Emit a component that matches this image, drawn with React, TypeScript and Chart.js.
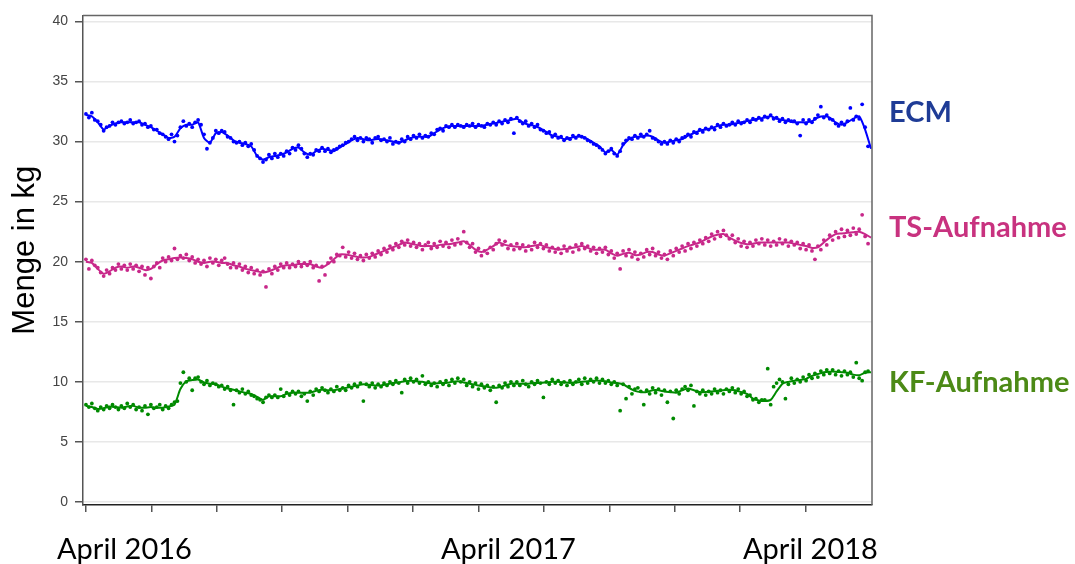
import React, { useEffect, useRef } from "react";
import { Chart, registerables } from "chart.js";

Chart.register(...registerables);

// ---- data ------------------------------------------------------------
// x unit: day index from the first day (April 2016)
const POINT_STEP = 3; // days between plotted daily readings
const LINE_STEP = 6; // days between points of the smoothed curve

const ecmPoints = [
  32.3, 32.0, 32.4, 31.8, 31.7, 31.4, 30.9, 31.2, 31.3, 31.6,
  31.4, 31.6, 31.7, 31.5, 31.6, 31.8, 31.5, 31.6, 31.7, 31.4,
  31.5, 31.2, 31.3, 31.0, 31.0, 30.7, 30.6, 30.4, 30.2, 30.6,
  30.0, 30.5, 31.2, 31.7, 31.3, 31.5, 31.2, 31.6, 31.8, 31.4,
  30.6, 29.4, 29.9, 30.3, 30.9, 30.7, 30.9, 30.8, 30.4, 30.3,
  30.0, 29.9, 30.0, 29.7, 29.9, 29.6, 29.8, 29.3, 28.8, 28.6,
  28.3, 28.5, 28.9, 28.6, 29.0, 28.7, 29.0, 28.8, 29.2, 29.0,
  29.5, 29.3, 29.7, 29.4, 29.0, 28.7, 29.0, 28.9, 29.3, 29.2,
  29.5, 29.2, 29.4, 29.1, 29.3, 29.4, 29.6, 29.7, 29.9, 30.0,
  30.2, 30.4, 30.1, 30.3, 30.0, 30.3, 30.2, 29.9, 30.3, 30.4,
  30.1, 30.2, 30.0, 30.3, 29.8, 30.0, 29.9, 30.2, 30.0, 30.4,
  30.2, 30.5, 30.3, 30.6, 30.3, 30.5, 30.4, 30.7, 30.6, 31.0,
  31.1, 30.9, 31.3, 31.2, 31.4, 31.2, 31.4, 31.3, 31.2, 31.4,
  31.3, 31.5, 31.2, 31.4, 31.3, 31.2, 31.5, 31.4, 31.6, 31.4,
  31.7, 31.5, 31.8, 31.6, 31.9, 30.7, 32.0, 31.7, 31.5, 31.7,
  31.3, 31.5, 31.2, 31.4, 31.0, 30.9, 30.7, 30.8, 30.4, 30.6,
  30.3, 30.4, 30.1, 30.3, 30.2, 30.5, 30.3, 30.5, 30.4, 30.3,
  30.1, 30.0, 29.8, 29.7, 29.5, 29.3, 29.0, 29.2, 29.4, 29.0,
  28.8, 29.2, 29.8, 30.1, 30.3, 30.2, 30.5, 30.3, 30.6, 30.4,
  30.6, 30.9, 30.3, 30.2, 30.0, 29.8, 30.0, 29.8, 30.1, 29.9,
  30.2, 30.0, 30.3, 30.4, 30.6, 30.4, 30.8, 30.7, 31.0, 30.8,
  31.1, 31.0, 31.2, 31.0, 31.4, 31.2, 31.5, 31.3, 31.4, 31.6,
  31.4, 31.7, 31.5, 31.6, 31.8, 31.6, 31.9, 31.8, 32.0, 31.8,
  32.1, 32.0, 32.2, 31.9, 32.0, 31.7, 31.9, 31.6, 31.8, 31.7,
  31.7, 31.5, 30.5, 31.8, 31.5, 31.8, 31.6, 31.9, 32.2, 32.9,
  32.0, 32.2, 31.9, 31.8, 31.5, 31.3, 31.6, 31.4, 31.7, 32.8,
  31.8, 32.1, 31.9, 33.1, 31.2, 29.6,
];

const tsPoints = [
  20.2, 19.4, 20.1, 19.7, 19.5, 19.1, 18.8, 19.3, 19.0, 19.5,
  19.3, 19.8, 19.4, 19.7, 19.3, 19.8, 19.4, 19.7, 19.2, 19.6,
  18.9, 19.5, 18.6, 19.6, 19.9, 19.5, 20.3, 20.0, 20.4, 20.1,
  21.1, 20.2, 20.5, 20.3, 20.6, 20.1, 20.4, 19.9, 20.2, 19.8,
  20.1, 19.6, 20.3, 19.9, 20.2, 19.7, 20.1, 20.3, 19.8, 19.5,
  19.9, 19.5, 19.8, 19.3, 19.6, 19.1, 19.5, 19.0, 19.3, 18.9,
  19.2, 17.9, 19.4, 19.0, 19.6, 19.3, 19.8, 19.5, 19.9, 19.5,
  19.8, 19.6, 20.0, 19.6, 19.9, 19.7, 20.0, 19.5, 19.7, 18.4,
  19.6, 18.9, 19.9, 20.3, 20.0, 20.6, 20.5, 21.2, 20.4, 20.8,
  20.3, 20.7, 20.2, 20.5, 20.1, 20.6, 20.3, 20.7, 20.4, 20.9,
  20.6, 21.1, 20.8, 21.3, 21.0, 21.5, 21.2, 21.7, 21.4, 21.8,
  21.3, 21.6, 21.2, 21.5, 21.0, 21.4, 21.6, 21.1, 21.5, 21.2,
  21.7, 21.3, 21.6, 21.2, 21.8, 21.4, 21.9, 21.5, 22.5, 21.6,
  21.2, 21.5, 20.8, 21.1, 20.5, 20.9, 20.7, 21.2, 21.0, 21.5,
  21.8, 21.4, 21.7, 21.1, 21.4, 21.0, 21.5, 21.1, 21.4, 20.9,
  21.3, 21.0, 21.6, 21.2, 21.5, 21.1, 21.4, 20.9, 21.2, 20.8,
  21.1, 20.7, 21.3, 20.9, 21.2, 20.8, 21.4, 21.0, 21.5, 21.1,
  21.3, 20.9, 21.2, 20.7, 21.1, 20.8, 21.2, 20.6, 20.9, 20.3,
  20.7, 19.4, 20.9, 20.5, 21.0, 20.4, 20.8, 20.2, 20.7, 20.4,
  21.0, 20.6, 21.1, 20.5, 20.8, 20.3, 20.6, 20.2, 20.9, 20.5,
  21.1, 20.8, 21.3, 20.9, 21.5, 21.1, 21.6, 21.3, 21.8, 21.5,
  22.0, 21.7, 22.3, 21.9, 22.5, 22.1, 22.6, 22.2, 21.9, 22.2,
  21.6, 21.9, 21.3, 21.7, 21.2, 21.6, 21.3, 21.8, 21.5, 21.9,
  21.4, 21.8, 21.3, 21.7, 21.4, 21.9, 21.5, 21.8, 21.3, 21.7,
  21.4, 21.6, 21.1, 21.5, 21.0, 21.4, 20.9, 20.2, 21.3, 21.0,
  21.8, 21.4, 22.2, 21.8, 22.5, 22.0, 22.7, 22.1, 22.6, 22.2,
  22.8, 22.3, 22.7, 23.9, 22.1, 21.5,
];

const kfPoints = [
  8.1, 7.9, 8.2, 7.8, 7.6, 7.9, 7.7, 8.0, 7.8, 8.1,
  7.9, 7.7, 8.0, 7.8, 8.2, 7.9, 8.1, 7.7, 7.9, 7.6,
  8.0, 7.3, 8.1, 7.8, 7.9, 8.1, 7.7, 8.0, 7.8, 8.1,
  8.3, 8.4, 9.9, 10.8, 10.0, 10.3, 9.3, 10.3, 10.4, 10.0,
  9.8, 10.1, 9.7, 9.9, 9.8, 9.6, 9.7, 9.4, 9.6, 9.3,
  8.1, 9.3, 9.1, 9.4, 9.0, 9.2, 8.9, 8.8, 8.6, 8.5,
  8.3, 8.7, 8.9, 8.7, 8.9, 8.7, 9.4, 8.8, 9.1, 8.9,
  9.2, 9.0, 9.2, 8.8, 9.0, 8.4, 9.2, 8.9, 9.4, 9.2,
  9.5, 9.3, 9.1, 9.4, 9.2, 9.6, 9.3, 9.5, 9.3, 9.7,
  9.5, 9.8, 9.6, 9.9, 8.4, 9.8, 9.6, 9.9, 9.5, 9.8,
  9.6, 9.9, 9.7, 10.0, 9.8, 10.1, 9.9, 9.1, 10.2, 9.9,
  10.3, 10.0, 10.2, 9.9, 10.5, 9.8, 10.0, 9.7, 9.9, 9.6,
  10.0, 9.8, 10.1, 9.7, 10.2, 9.9, 10.3, 10.0, 10.2, 9.7,
  10.0, 9.6, 9.9, 9.4, 9.8, 9.5, 9.7, 9.3, 9.6, 8.3,
  9.7, 9.5, 9.9, 9.6, 10.0, 9.7, 10.0, 9.7, 10.1, 9.8,
  9.6, 10.0, 9.8, 10.1, 9.9, 8.7, 10.0, 9.8, 10.2, 9.9,
  10.1, 9.8, 10.0, 9.7, 10.1, 9.8, 10.0, 10.2, 9.8, 10.3,
  9.9, 10.2, 10.0, 10.3, 9.9, 10.2, 9.9, 10.1, 9.8, 10.0,
  9.7, 7.6, 9.8, 8.6, 9.6, 9.0, 9.4, 9.5, 9.2, 8.1,
  9.3, 9.0, 9.5, 9.1, 9.4, 8.9, 9.3, 8.3, 9.2, 6.95,
  9.3, 9.0, 9.4, 9.6, 9.3, 9.7, 8.0, 9.2, 9.0, 9.3,
  8.9, 9.2, 9.0, 9.4, 9.1, 9.3, 9.0, 9.4, 9.2, 9.5,
  9.1, 9.4, 9.0, 9.2, 8.8, 8.9, 8.5, 8.6, 8.3, 8.5,
  8.5, 11.1, 8.1, 9.6, 9.9, 10.2, 10.0, 8.6, 9.8, 10.3,
  9.9, 10.2, 10.0, 10.4, 10.1, 10.6, 10.3, 10.7, 10.4, 10.9,
  10.6, 11.0, 10.7, 11.0, 10.6, 10.9, 10.5, 10.9, 10.6, 10.8,
  10.4, 11.6, 10.3, 10.1, 10.8, 10.9,
];

const ecmLine = [
  32.2, 32.1, 31.6, 31.0, 31.3, 31.5, 31.6, 31.6, 31.6, 31.6,
  31.4, 31.2, 30.9, 30.6, 30.3, 30.4, 31.1, 31.4, 31.4, 31.6,
  30.3, 29.9, 30.7, 30.8, 30.5, 30.1, 29.9, 29.8, 29.6, 28.8,
  28.5, 28.7, 28.8, 28.9, 29.1, 29.4, 29.5, 29.1, 28.9, 29.2,
  29.4, 29.3, 29.2, 29.5, 29.8, 30.1, 30.3, 30.2, 30.1, 30.2,
  30.2, 30.1, 30.0, 29.9, 30.1, 30.3, 30.4, 30.4, 30.4, 30.7,
  31.0, 31.2, 31.3, 31.3, 31.3, 31.3, 31.3, 31.3, 31.4, 31.5,
  31.6, 31.7, 31.8, 31.9, 31.6, 31.4, 31.3, 31.1, 30.8, 30.5,
  30.4, 30.2, 30.3, 30.4, 30.4, 30.2, 29.9, 29.6, 29.1, 29.3,
  28.9, 29.7, 30.2, 30.4, 30.4, 30.5, 30.4, 30.1, 29.9, 30.0,
  30.1, 30.2, 30.5, 30.7, 30.9, 31.0, 31.1, 31.3, 31.4, 31.4,
  31.5, 31.6, 31.7, 31.8, 31.9, 32.0, 32.1, 31.9, 31.8, 31.7,
  31.6, 31.6, 31.6, 31.7, 32.0, 32.1, 32.0, 31.6, 31.4, 31.6,
  31.9, 32.1, 31.0, 29.4,
];

const tsLine = [
  20.0, 19.9, 19.4, 19.0, 19.2, 19.5, 19.6, 19.5, 19.6, 19.5,
  19.3, 19.4, 19.8, 20.1, 20.2, 20.3, 20.35, 20.3, 20.2, 20.0,
  19.9, 20.0, 20.0, 19.9, 19.9, 19.7, 19.6, 19.4, 19.3, 19.2,
  19.1, 19.2, 19.4, 19.6, 19.7, 19.7, 19.8, 19.8, 19.8, 19.6,
  19.5, 19.8, 20.2, 20.6, 20.6, 20.5, 20.4, 20.35, 20.4, 20.6,
  20.8, 21.0, 21.2, 21.4, 21.6, 21.5, 21.4, 21.3, 21.3, 21.3,
  21.4, 21.45, 21.5, 21.6, 21.7, 21.4, 21.0, 20.8, 21.0, 21.3,
  21.6, 21.4, 21.3, 21.25, 21.2, 21.25, 21.35, 21.4, 21.2, 21.1,
  21.0, 21.05, 21.1, 21.2, 21.3, 21.15, 21.0, 21.0, 21.0, 20.7,
  20.5, 20.65, 20.75, 20.55, 20.6, 20.8, 20.8, 20.6, 20.5, 20.7,
  20.9, 21.1, 21.3, 21.45, 21.6, 21.85, 22.1, 22.25, 22.3, 22.0,
  21.75, 21.55, 21.45, 21.5, 21.6, 21.6, 21.6, 21.6, 21.6, 21.6,
  21.5, 21.4, 21.3, 21.15, 21.2, 21.6, 22.0, 22.3, 22.35, 22.4,
  22.45, 22.5, 22.3, 22.0,
];

const kfLine = [
  8.0, 7.9, 7.75, 7.8, 7.95, 7.9, 7.85, 7.95, 8.0, 7.85,
  7.85, 7.9, 7.85, 7.85, 7.95, 8.1, 9.4, 10.05, 10.15, 10.2,
  9.95, 9.85, 9.8, 9.6, 9.45, 9.35, 9.2, 9.1, 9.0, 8.75,
  8.5, 8.8, 8.8, 8.8, 9.0, 9.1, 9.1, 9.1, 9.1, 9.25,
  9.35, 9.3, 9.3, 9.4, 9.5, 9.6, 9.7, 9.8, 9.75, 9.7,
  9.7, 9.8, 9.9, 9.95, 10.05, 10.1, 10.05, 10.0, 9.9, 9.85,
  9.9, 9.9, 10.0, 10.05, 9.95, 9.85, 9.75, 9.65, 9.6, 9.5,
  9.55, 9.7, 9.85, 9.85, 9.85, 9.85, 9.9, 9.9, 9.95, 10.0,
  10.0, 9.95, 9.9, 9.95, 10.0, 10.05, 10.1, 10.1, 10.05, 9.95,
  9.9, 9.8, 9.5, 9.25, 9.15, 9.15, 9.3, 9.3, 9.2, 9.15,
  9.1, 9.3, 9.45, 9.3, 9.15, 9.15, 9.2, 9.25, 9.3, 9.35,
  9.3, 9.15, 9.0, 8.6, 8.45, 8.4, 8.5, 9.2, 9.85, 10.0,
  10.1, 10.15, 10.25, 10.5, 10.65, 10.8, 10.85, 10.85, 10.8, 10.75,
  10.6, 10.55, 10.75, 10.8,
];

const seriesNames = ["ECM", "TS-Aufnahme", "KF-Aufnahme"];
const yTicks = [0, 5, 10, 15, 20, 25, 30, 35, 40];
const xTickDays = [0, 66.5, 133, 199.5, 266, 332.5, 399, 465.5, 532, 598.5, 665, 731.5];
const dateLabels = ["April 2016", "April 2017", "April 2018"];
const yTitle = "Menge in kg";

// ---- styles / layout -------------------------------------------------
const W = 1075;
const H = 564;
const pointColors = ["#0000ff", "#c8288a", "#008a00"];
const nameColors = ["#1f3c96", "#c8327f", "#4c8a16"];
const nameX = 889;
const nameBaselines = [122, 237, 392];
const dateLabelX = [57, 441, 743];
const dateBaseline = 559;

const toXY = (vals: number[], step: number) =>
  vals.map((v, i) => ({ x: i * step, y: v }));

const overlayPlugin = {
  id: "overlay",
  afterDraw(chart: any) {
    const ctx = chart.ctx as CanvasRenderingContext2D;
    const { left, top, right, bottom } = chart.chartArea;
    ctx.save();
    // frame top & right
    ctx.strokeStyle = "#666";
    ctx.lineWidth = 1.5;
    ctx.beginPath();
    ctx.moveTo(left, top);
    ctx.lineTo(right, top);
    ctx.lineTo(right, bottom);
    ctx.stroke();

    // series names
    ctx.textAlign = "left";
    ctx.textBaseline = "alphabetic";
    ctx.font = 'bold 29px Lato';
    seriesNames.forEach((n, i) => {
      ctx.fillStyle = nameColors[i];
      ctx.fillText(n, nameX, nameBaselines[i]);
    });

    // date labels
    ctx.font = '29px Lato';
    ctx.fillStyle = "#000";
    dateLabels.forEach((t, i) => {
      ctx.fillText(t, dateLabelX[i], dateBaseline);
    });

    // y title
    ctx.translate(34, (top + bottom) / 2 - 10);
    ctx.rotate(-Math.PI / 2);
    ctx.textAlign = "center";
    ctx.font = '31px "Liberation Sans"';
    ctx.fillStyle = "#000";
    ctx.fillText(yTitle, 0, 0);
    ctx.restore();
  },
};

export default function App() {
  const ref = useRef<HTMLCanvasElement | null>(null);

  useEffect(() => {
    if (!ref.current) return;
    const pointSets = [ecmPoints, tsPoints, kfPoints];
    const lineSets = [ecmLine, tsLine, kfLine];
    const datasets: any[] = [];
    seriesNames.forEach((name, i) => {
      datasets.push({
        label: name,
        data: toXY(pointSets[i], POINT_STEP),
        showLine: false,
        pointRadius: 1.9,
        pointBorderWidth: 0,
        pointBackgroundColor: pointColors[i],
        borderColor: pointColors[i],
      });
      datasets.push({
        label: name + " (geglättet)",
        data: toXY(lineSets[i], LINE_STEP),
        showLine: true,
        pointRadius: 0,
        borderWidth: 2,
        borderColor: pointColors[i],
        tension: 0.2,
      });
    });

    const chart = new Chart(ref.current, {
      type: "scatter",
      data: { datasets },
      options: {
        animation: false,
        responsive: true,
        maintainAspectRatio: false,
        events: [],
        layout: { padding: { top: 11, right: W - 872, bottom: 0, left: 0 } },
        plugins: { legend: { display: false }, tooltip: { enabled: false } },
        scales: {
          x: {
            type: "linear",
            min: -3,
            max: 799,
            afterBuildTicks: (s: any) => {
              s.ticks = xTickDays.map((v) => ({ value: v }));
            },
            afterFit: (s: any) => {
              s.height = H - 505;
            },
            grid: {
              drawOnChartArea: false,
              drawTicks: true,
              tickLength: 7,
              tickColor: "#555",
              lineWidth: 1.5,
            },
            border: { color: "#222", width: 1.5 },
            ticks: { display: false },
          },
          y: {
            min: -0.25,
            max: 40.5,
            afterBuildTicks: (s: any) => {
              s.ticks = yTicks.map((v) => ({ value: v }));
            },
            afterFit: (s: any) => {
              s.width = 83;
            },
            grid: {
              color: "#e8e8e8",
              lineWidth: 1.5,
              tickLength: 8,
              tickColor: "#555",
            },
            border: { color: "#555", width: 1.5 },
            ticks: {
              color: "#444",
              padding: 7,
              font: { family: '"Liberation Sans", Arial, sans-serif', size: 14 },
            },
          },
        },
      },
      plugins: [overlayPlugin],
    });
    return () => chart.destroy();
  }, []);

  return (
    <div
      style={{
        position: "fixed",
        left: 0,
        top: 0,
        width: W,
        height: H,
        background: "#fff",
      }}
    >
      <canvas ref={ref} />
    </div>
  );
}
